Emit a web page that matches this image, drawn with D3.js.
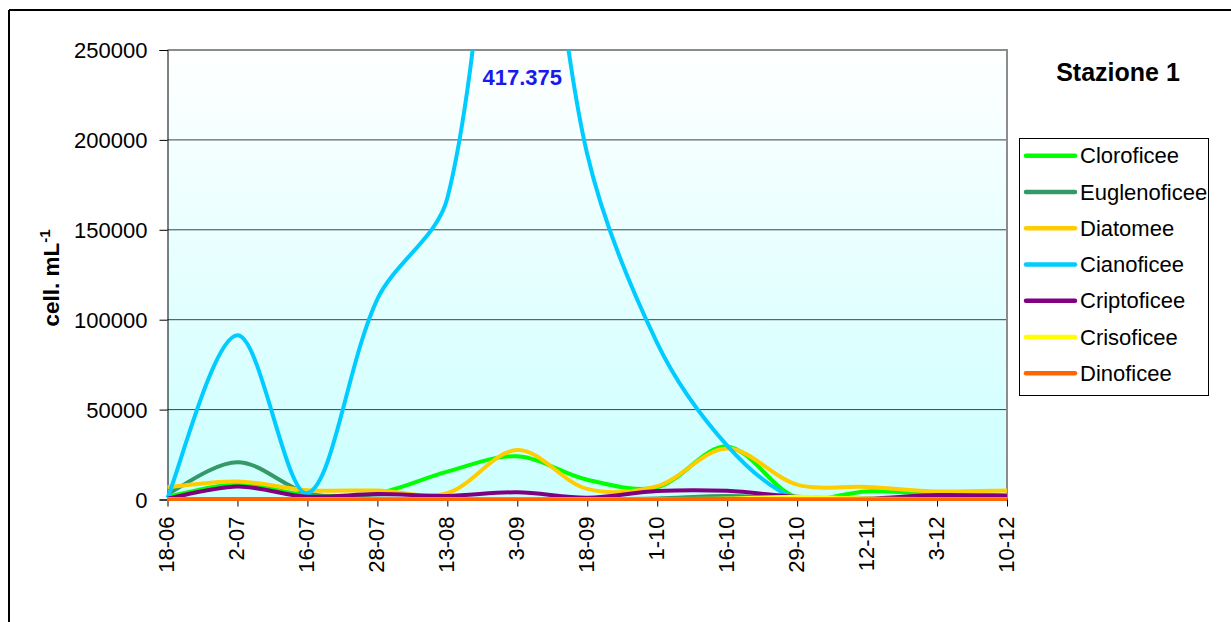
<!DOCTYPE html>
<html>
<head>
<meta charset="utf-8">
<script src="https://cdn.jsdelivr.net/npm/d3@7"></script>
<style>
  html, body { margin: 0; padding: 0; background: #ffffff; }
  svg { display: block; font-family: "Liberation Sans", Arial, sans-serif; }
</style>
</head>
<body>
<svg id="chart" width="1231" height="622"></svg>
<script>
// ---- data ----
const categories = ["18-06","2-07","16-07","28-07","13-08","3-09","18-09","1-10","16-10","29-10","12-11","3-12","10-12"];
const seriesNames = ["Cloroficee","Euglenoficee","Diatomee","Cianoficee","Criptoficee","Crisoficee","Dinoficee"];
const seriesColors = ["#00ff00","#339966","#ffcc00","#00ccff","#800080","#ffff00","#ff6600"];
const cloroficee   = [1500, 8500, 2500, 3500, 15500, 24000, 11000, 6800, 29400, 1000, 4500, 3000, 2500];
const euglenoficee = [3000, 20700, 3500, 500, 300, 300, 300, 600, 2000, 500, 300, 300, 300];
const diatomee     = [6800, 10000, 5200, 5000, 3500, 27500, 5900, 7400, 28300, 8300, 7000, 4500, 5000];
const cianoficee   = [1000, 91300, 3500, 111500, 167500, 417375, 192000, 87000, 30000, 0, 0, 0, 0];
const criptoficee  = [500, 7200, 1500, 3000, 2000, 4000, 1000, 4700, 4800, 1500, 500, 2500, 2000];
const crisoficee   = [300, 300, 300, 300, 300, 300, 300, 300, 500, 1500, 500, 300, 300];
const dinoficee    = [200, 300, 200, 100, 100, 200, 100, 200, 300, 200, 100, 100, 100];
const seriesValues = [cloroficee, euglenoficee, diatomee, cianoficee, criptoficee, crisoficee, dinoficee];
const yTicks = [0, 50000, 100000, 150000, 200000, 250000];
const chartTitle = "Stazione 1";
const peakCategory = "3-09";

// ---- Excel-like smoothed line as a d3 curve ----
function ExcelSmooth(context) { this._context = context; }
ExcelSmooth.prototype = {
  areaStart() {}, areaEnd() {},
  lineStart() { this._p = []; },
  point(px, py) { this._p.push([+px, +py]); },
  lineEnd() {
    const p = this._p, n = p.length, c = this._context;
    if (!n) return;
    c.moveTo(p[0][0], p[0][1]);
    if (n === 1) return;
    const dist = (a, b) => Math.hypot(b[0] - a[0], b[1] - a[1]);
    const arms = p.map((pt, i) => {
      const a = p[Math.max(i - 1, 0)], b = p[Math.min(i + 1, n - 1)];
      const T = [b[0] - a[0], b[1] - a[1]];
      const dp = i > 0 ? dist(p[i - 1], pt) : 0;
      const dn = i < n - 1 ? dist(pt, p[i + 1]) : 0;
      const s = dp + dn || 1;
      const endF = (i === 0 || i === n - 1) ? 0.5 : 1;
      return {
        inA: [T[0] * dp / s / 3 * endF, T[1] * dp / s / 3 * endF],
        outA: [T[0] * dn / s / 3 * endF, T[1] * dn / s / 3 * endF]
      };
    });
    for (let i = 0; i < n - 1; i++) {
      const a = p[i], b = p[i + 1];
      c.bezierCurveTo(a[0] + arms[i].outA[0], a[1] + arms[i].outA[1],
                      b[0] - arms[i + 1].inA[0], b[1] - arms[i + 1].inA[1],
                      b[0], b[1]);
    }
  }
};
const curveExcel = ctx => new ExcelSmooth(ctx);

// ---- layout ----
const svg = d3.select("#chart");
const X0 = 167.5, X1 = 1007, Y0 = 50, Y1 = 499.5;
const x = d3.scalePoint().domain(categories).range([X0, X1]);
const y = d3.scaleLinear().domain([0, 250000]).range([Y1, Y0]);
const itLocale = d3.formatLocale({decimal: ",", thousands: ".", grouping: [3], currency: ["", ""]});
const FONT = "Liberation Sans, Arial, sans-serif";

// outer frame (only top and left edges visible)
svg.append("line").attr("x1", 9).attr("x2", 9).attr("y1", 10).attr("y2", 622)
  .attr("stroke", "#000").attr("stroke-width", 2);
svg.append("line").attr("x1", 9).attr("x2", 1231).attr("y1", 10).attr("y2", 10)
  .attr("stroke", "#000").attr("stroke-width", 2);

// gradient background
const defs = svg.append("defs");
const grad = defs.append("linearGradient").attr("id", "bg").attr("x1", 0).attr("y1", 0).attr("x2", 0).attr("y2", 1);
grad.append("stop").attr("offset", "0%").attr("stop-color", "#ffffff");
grad.append("stop").attr("offset", "100%").attr("stop-color", "#ccffff");
svg.append("rect").attr("x", X0).attr("y", Y0).attr("width", X1 - X0).attr("height", Y1 - Y0)
  .attr("fill", "url(#bg)");

defs.append("clipPath").attr("id", "clip").append("rect")
  .attr("x", X0 - 10).attr("y", Y0).attr("width", X1 - X0 + 20).attr("height", Y1 - Y0 + 1.5);

// gridlines
svg.append("g").selectAll("line").data(yTicks.filter(d => d > 0 && d < 250000)).join("line")
  .attr("x1", X0).attr("x2", X1).attr("y1", d => y(d)).attr("y2", d => y(d))
  .attr("stroke", "#404040").attr("stroke-width", 1);

// plot border top/right
svg.append("path").attr("d", `M${X0},${Y0}H${X1}V${Y1}`)
  .attr("fill", "none").attr("stroke", "#8c8c8c").attr("stroke-width", 2);

// y axis
const yAxis = svg.append("g").attr("transform", `translate(${X0},0)`)
  .call(d3.axisLeft(y).tickValues(yTicks).tickSize(8).tickPadding(12).tickFormat(d3.format("d")));
yAxis.select(".domain").attr("stroke", "#000");
yAxis.selectAll(".tick line").attr("stroke", "#000");
yAxis.selectAll("text").attr("font-size", 22).attr("font-family", FONT)
  .attr("fill", "#000").attr("dy", "0.36em");

// x axis
const xAxis = svg.append("g").attr("transform", `translate(0,${Y1})`)
  .call(d3.axisBottom(x).tickSize(7).tickSizeOuter(0));
xAxis.select(".domain").attr("stroke", "#000");
xAxis.selectAll(".tick line").attr("stroke", "#000");
xAxis.selectAll("text")
  .attr("font-size", 22).attr("font-family", FONT).attr("fill", "#000")
  .attr("transform", "rotate(-90)").attr("text-anchor", "end")
  .attr("x", -17).attr("y", 0).attr("dy", "0.28em");

// series lines
const line = d3.line().x((d, i) => x(categories[i])).y(d => y(d)).curve(curveExcel);
const lines = svg.append("g").attr("clip-path", "url(#clip)");
seriesValues.forEach((vals, si) => {
  lines.append("path").attr("d", line(vals)).attr("fill", "none")
    .attr("stroke", seriesColors[si]).attr("stroke-width", 4)
    .attr("stroke-linejoin", "round").attr("stroke-linecap", "butt");
});

// peak annotation
const peakIdx = categories.indexOf(peakCategory);
svg.append("text").attr("x", x(peakCategory) + 5).attr("y", 85).attr("text-anchor", "middle")
  .attr("font-size", 22).attr("font-weight", "bold").attr("fill", "#1a1aee")
  .text(itLocale.format(",")(cianoficee[peakIdx]));

// y axis title
const yt = svg.append("text").attr("transform", "translate(59,278) rotate(-90)")
  .attr("text-anchor", "middle").attr("font-size", 22.5).attr("font-weight", "bold").attr("fill", "#000");
yt.append("tspan").text("cell. mL");
yt.append("tspan").attr("font-size", 15).attr("dy", -9).text("-1");

// chart title
svg.append("text").attr("x", 1118).attr("y", 81).attr("text-anchor", "middle")
  .attr("font-size", 25).attr("font-weight", "bold").attr("fill", "#000").text(chartTitle);

// legend
svg.append("rect").attr("x", 1019.5).attr("y", 138.5).attr("width", 189).attr("height", 257)
  .attr("fill", "#fff").attr("stroke", "#000").attr("stroke-width", 1);
const lg = svg.append("g").selectAll("g").data(seriesNames).join("g")
  .attr("transform", (d, i) => `translate(0,${155.7 + i * 36.25})`);
lg.append("line").attr("x1", 1026).attr("x2", 1075).attr("y1", 0).attr("y2", 0)
  .attr("stroke", (d, i) => seriesColors[i]).attr("stroke-width", 4.5).attr("stroke-linecap", "round");
lg.append("text").attr("x", 1080).attr("y", 0).attr("dy", "0.35em").attr("font-size", 22)
  .attr("fill", "#000").text(d => d);
</script>
</body>
</html>
